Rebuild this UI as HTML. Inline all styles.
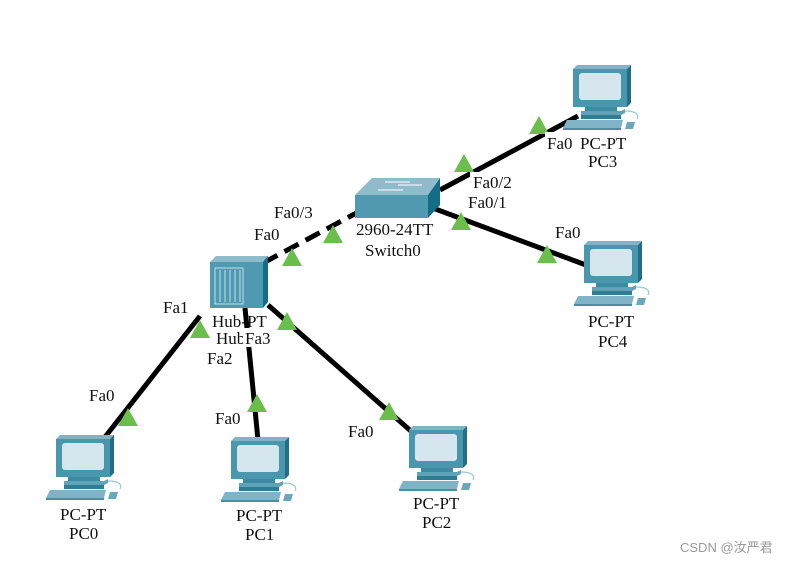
<!DOCTYPE html>
<html><head><meta charset="utf-8"><style>
html,body{margin:0;padding:0;background:#fff;}
svg{display:block;}
text{font-family:"Liberation Serif","Noto Serif CJK SC",serif;font-size:17px;fill:#111;}
</style></head><body>
<svg width="795" height="563" viewBox="0 0 795 563" xmlns="http://www.w3.org/2000/svg">
<defs>
<g id="pc">
  <polygon points="0,4 4,0 58,0 54,4" fill="#7fb3c5"/>
  <polygon points="54,4 58,0 58,38 54,42" fill="#1f6f86"/>
  <rect x="0" y="4" width="54" height="38" fill="#4a97ad"/>
  <rect x="6" y="8" width="42" height="27" rx="3" fill="#d6e6ee"/>
  <rect x="12" y="42" width="32" height="4" fill="#3e8aa2"/>
  <polygon points="8,46 48,46 52,44 52,48 48,50 8,50" fill="#5ea3b8"/>
  <rect x="8" y="50" width="40" height="4" fill="#2e7d95"/>
  <polygon points="-6,55 50,55 48,63 -10,63" fill="#7fb3c5"/>
  <rect x="-10" y="63" width="58" height="2" fill="#4a8ea3"/>
  <path d="M52,46 C64,46 66,50 64,54" stroke="#9cc" stroke-width="1.2" fill="none"/>
  <polygon points="54,57 62,57 60,64 52,64" fill="#6aa7bb"/>
</g>
<polygon id="tri" points="0,-10 10,8 -10,8" fill="#6abf4b"/>
</defs>

<!-- links -->
<g stroke="#000" stroke-width="5" fill="none">
  <line x1="440" y1="190" x2="578" y2="116"/>
  <line x1="430" y1="207" x2="586" y2="265"/>
  <line x1="362" y1="210" x2="265" y2="262" stroke-dasharray="16,8"/>
  <line x1="200" y1="316" x2="105" y2="437"/>
  <line x1="245" y1="308" x2="258" y2="440"/>
  <line x1="268" y1="305" x2="412" y2="432"/>
</g>

<!-- switch -->
<polygon points="355,195 372,178 440,178 428,195" fill="#8fbccb"/>
<polygon points="428,195 440,178 440,205 428,218" fill="#136d86"/>
<rect x="355" y="195" width="73" height="23" fill="#4f9ab0"/>
<g stroke="#eef" stroke-width="1.2"><line x1="385" y1="182" x2="410" y2="182"/><line x1="378" y1="190" x2="403" y2="190"/><line x1="398" y1="185" x2="422" y2="185"/></g>

<!-- hub -->
<polygon points="210,262 216,256 268,256 263,262" fill="#8fbccb"/>
<polygon points="263,262 268,256 268,302 263,308" fill="#136d86"/>
<rect x="210" y="262" width="53" height="46" fill="#4f9ab0"/>
<rect x="215" y="268" width="28" height="36" fill="none" stroke="#bfe0ea" stroke-width="1"/>
<g stroke="#bfe0ea" stroke-width="1"><line x1="220" y1="270" x2="220" y2="302"/><line x1="225" y1="270" x2="225" y2="302"/><line x1="230" y1="270" x2="230" y2="302"/><line x1="235" y1="270" x2="235" y2="302"/><line x1="240" y1="270" x2="240" y2="302"/></g>

<!-- PCs -->
<use href="#pc" x="56" y="435"/>
<use href="#pc" x="231" y="437"/>
<use href="#pc" x="409" y="426"/>
<use href="#pc" x="573" y="65"/>
<use href="#pc" x="584" y="241"/>

<!-- triangles -->
<use href="#tri" x="128" y="418"/>
<use href="#tri" x="257" y="404"/>
<use href="#tri" x="389" y="412"/>
<use href="#tri" x="200" y="330"/>
<use href="#tri" x="287" y="322"/>
<use href="#tri" x="292" y="258"/>
<use href="#tri" x="333" y="235"/>
<use href="#tri" x="461" y="222"/>
<use href="#tri" x="464" y="164"/>
<use href="#tri" x="539" y="126"/>
<use href="#tri" x="547" y="255"/>

<!-- labels -->
<text x="468" y="208">Fa0/1</text>
<rect x="470" y="172" width="56" height="20" fill="#fff"/>
<text x="473" y="188">Fa0/2</text>
<text x="356" y="235">2960-24TT</text>
<text x="365" y="256">Switch0</text>
<text x="254" y="240">Fa0</text>
<text x="274" y="218">Fa0/3</text>
<text x="163" y="313">Fa1</text>
<text x="212" y="327">Hub-PT</text>
<text x="216" y="344">Hub0</text>
<rect x="243" y="328" width="34" height="19" fill="#fff"/>
<text x="245" y="344">Fa3</text>
<rect x="205" y="348" width="34" height="19" fill="#fff"/>
<text x="207" y="364">Fa2</text>
<text x="89" y="401">Fa0</text>
<text x="215" y="424">Fa0</text>
<text x="348" y="437">Fa0</text>
<text x="555" y="238">Fa0</text>
<text x="580" y="149">PC-PT</text>
<rect x="545" y="132" width="33" height="20" fill="#fff"/>
<text x="547" y="149">Fa0</text>
<text x="588" y="167">PC3</text>
<text x="588" y="327">PC-PT</text>
<text x="598" y="347">PC4</text>
<text x="60" y="520">PC-PT</text>
<text x="69" y="539">PC0</text>
<text x="236" y="521">PC-PT</text>
<text x="245" y="540">PC1</text>
<text x="413" y="509">PC-PT</text>
<text x="422" y="528">PC2</text>
<text x="680" y="552" style="font-family:'Liberation Sans','Noto Sans CJK SC',sans-serif;font-size:13px;fill:#999">CSDN @汝严君</text>
</svg>
</body></html>
